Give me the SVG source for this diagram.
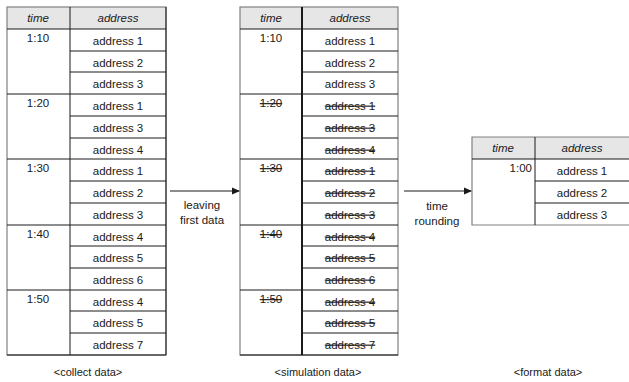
<svg xmlns="http://www.w3.org/2000/svg" width="629" height="382" viewBox="0 0 629 382">
<defs>
<style>
text{font-family:"Liberation Sans",Arial,sans-serif;font-size:11.5px;fill:#1a1a1a;text-anchor:middle}
.h{font-style:italic}
.s{text-decoration:line-through}
.hdr{fill:#e6e6e6;stroke:none}
.ln{stroke:#1a1a1a;stroke-width:1;fill:none}
.out{stroke:#808080;stroke-width:1.2;fill:none}
.cap{font-size:11px}
</style>
<marker id="ah" markerWidth="8" markerHeight="8" refX="7" refY="4" orient="auto" markerUnits="userSpaceOnUse">
<path d="M0,0.5 L8,4 L0,7.5 Z" fill="#1a1a1a"/>
</marker>
</defs>
<rect width="629" height="382" fill="#fff"/>

<g id="table-collect">
<rect class="hdr" x="7" y="7" width="159" height="22"/>
<rect class="out" x="7" y="7" width="159" height="348"/>
<path class="ln" d="M70,7V355 M7,29H166 M7,94H166 M7,159H166 M7,225H166 M7,290H166 M70,51H166 M70,72H166 M70,116H166 M70,138H166 M70,181H166 M70,203H166 M70,246H166 M70,268H166 M70,311H166 M70,333H166 M7,355H166 M166,7V355"/>
<text class="h" x="38" y="22">time</text>
<text class="h" x="118" y="22">address</text>
<text x="38" y="42">1:10</text>
<text x="38" y="107">1:20</text>
<text x="38" y="172">1:30</text>
<text x="38" y="238">1:40</text>
<text x="38" y="303">1:50</text>
<text x="118" y="44.5">address 1</text>
<text x="118" y="66.5">address 2</text>
<text x="118" y="87.5">address 3</text>
<text x="118" y="109.5">address 1</text>
<text x="118" y="131.5">address 3</text>
<text x="118" y="153.5">address 4</text>
<text x="118" y="174.5">address 1</text>
<text x="118" y="196.5">address 2</text>
<text x="118" y="218.5">address 3</text>
<text x="118" y="240.5">address 4</text>
<text x="118" y="261.5">address 5</text>
<text x="118" y="283.5">address 6</text>
<text x="118" y="305.5">address 4</text>
<text x="118" y="326.5">address 5</text>
<text x="118" y="348.5">address 7</text>
</g>

<g id="table-simulation">
<rect class="hdr" x="240" y="7" width="158" height="22"/>
<rect class="out" x="240" y="7" width="158" height="348"/>
<path class="ln" style="stroke-width:2" d="M302,7V355"/>
<path class="ln" d="M240,29H398 M240,94H398 M240,159H398 M240,225H398 M240,290H398 M302,51H398 M302,72H398 M302,116H398 M302,138H398 M302,181H398 M302,203H398 M302,246H398 M302,268H398 M302,311H398 M302,333H398 M240,355H398"/>
<text class="h" x="271" y="22">time</text>
<text class="h" x="350" y="22">address</text>
<text x="271" y="42">1:10</text>
<text class="s" x="271" y="107">1:20</text>
<text class="s" x="271" y="172">1:30</text>
<text class="s" x="271" y="238">1:40</text>
<text class="s" x="271" y="303">1:50</text>
<text x="350" y="44.5">address 1</text>
<text x="350" y="66.5">address 2</text>
<text x="350" y="87.5">address 3</text>
<text class="s" x="350" y="109.5">address 1</text>
<text class="s" x="350" y="131.5">address 3</text>
<text class="s" x="350" y="153.5">address 4</text>
<text class="s" x="350" y="174.5">address 1</text>
<text class="s" x="350" y="196.5">address 2</text>
<text class="s" x="350" y="218.5">address 3</text>
<text class="s" x="350" y="240.5">address 4</text>
<text class="s" x="350" y="261.5">address 5</text>
<text class="s" x="350" y="283.5">address 6</text>
<text class="s" x="350" y="305.5">address 4</text>
<text class="s" x="350" y="326.5">address 5</text>
<text class="s" x="350" y="348.5">address 7</text>
</g>

<g id="table-format">
<rect class="hdr" x="472" y="137" width="160" height="22"/>
<path class="out" d="M632,137H472V225H632"/>
<path class="ln" d="M535,137V225 M472,159H632 M535,181H632 M535,203H632"/>
<text class="h" x="503" y="152">time</text>
<text class="h" x="582" y="152">address</text>
<text x="532" y="172" style="text-anchor:end">1:00</text>
<text x="582" y="174.5">address 1</text>
<text x="582" y="196.5">address 2</text>
<text x="582" y="218.5">address 3</text>
</g>

<g id="connectors">
<line class="ln" x1="170" y1="191" x2="239" y2="191" marker-end="url(#ah)"/>
<line class="ln" x1="404" y1="191" x2="471" y2="191" marker-end="url(#ah)"/>
</g>

<g id="labels">
<text x="202" y="209">leaving</text>
<text x="202" y="224">first data</text>
<text x="437" y="210">time</text>
<text x="437" y="225">rounding</text>
<text class="cap" x="88" y="376">&lt;collect data&gt;</text>
<text class="cap" x="318" y="376">&lt;simulation data&gt;</text>
<text class="cap" x="548" y="376">&lt;format data&gt;</text>
</g>
</svg>
